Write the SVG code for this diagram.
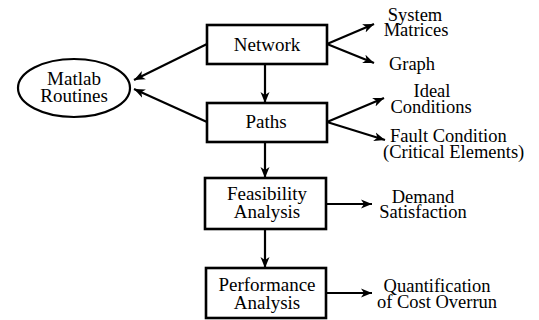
<svg xmlns="http://www.w3.org/2000/svg" width="539" height="320" viewBox="0 0 539 320">
<style>
text{font-family:"Liberation Serif","Times New Roman",serif;font-size:19px;fill:#000;text-anchor:middle}
.s{font-size:18.5px}
.st{text-anchor:start}
.box{fill:#fff;stroke:#000;stroke-width:2.6}
.ell{fill:#fff;stroke:#000;stroke-width:2.2}
.c{fill:none;stroke:#000;stroke-width:2.2}
</style>
<defs>
<marker id="ah" markerUnits="userSpaceOnUse" markerWidth="12" markerHeight="10" viewBox="0 -5 12 10" refX="11" refY="0" orient="auto">
<path d="M0,-4.5 L11,0 L0,4.5 L3,0 z" fill="#000"/>
</marker>
</defs>
<rect width="539" height="320" fill="#fff"/>
<g id="connectors">
<line class="c" x1="265" y1="64" x2="265" y2="103" marker-end="url(#ah)"/>
<line class="c" x1="265" y1="142" x2="265" y2="178" marker-end="url(#ah)"/>
<line class="c" x1="265" y1="229" x2="265" y2="268" marker-end="url(#ah)"/>
<line class="c" x1="207" y1="44" x2="134" y2="80" marker-end="url(#ah)"/>
<line class="c" x1="207" y1="122" x2="134" y2="89" marker-end="url(#ah)"/>
<line class="c" x1="327" y1="44" x2="374" y2="24" marker-end="url(#ah)"/>
<line class="c" x1="327" y1="44" x2="374" y2="63" marker-end="url(#ah)"/>
<line class="c" x1="327" y1="122" x2="384" y2="98" marker-end="url(#ah)"/>
<line class="c" x1="327" y1="122" x2="385" y2="140" marker-end="url(#ah)"/>
<line class="c" x1="326" y1="204" x2="372" y2="204" marker-end="url(#ah)"/>
<line class="c" x1="326" y1="293" x2="372" y2="293" marker-end="url(#ah)"/>
</g>
<g id="network">
<rect class="box" x="207" y="25" width="120" height="39"/>
<text x="267" y="51">Network</text>
</g>
<g id="paths">
<rect class="box" x="207" y="103" width="120" height="39"/>
<text x="266" y="128">Paths</text>
</g>
<g id="feasibility">
<rect class="box" x="205" y="178" width="121" height="51"/>
<text x="267" y="200">Feasibility</text>
<text x="267" y="218">Analysis</text>
</g>
<g id="performance">
<rect class="box" x="206" y="268" width="120" height="50"/>
<text x="267" y="291">Performance</text>
<text x="267" y="309">Analysis</text>
</g>
<g id="matlab">
<ellipse class="ell" cx="74" cy="88" rx="56" ry="29"/>
<text x="74" y="85">Matlab</text>
<text x="74" y="102">Routines</text>
</g>
<g id="system-matrices">
<text class="s" x="415" y="21">System</text>
<text class="s" x="416" y="36">Matrices</text>
</g>
<g id="graph">
<text class="s" x="412" y="70">Graph</text>
</g>
<g id="ideal">
<text class="s" x="432" y="97">Ideal</text>
<text class="s" x="431" y="113">Conditions</text>
</g>
<g id="fault">
<text class="s st" x="390" y="142">Fault Condition</text>
<text class="s st" x="383" y="158">(Critical Elements)</text>
</g>
<g id="demand">
<text class="s" x="423" y="203">Demand</text>
<text class="s" x="423" y="218">Satisfaction</text>
</g>
<g id="quantification">
<text class="s" x="437" y="292">Quantification</text>
<text class="s" x="437" y="308">of Cost Overrun</text>
</g>
</svg>
